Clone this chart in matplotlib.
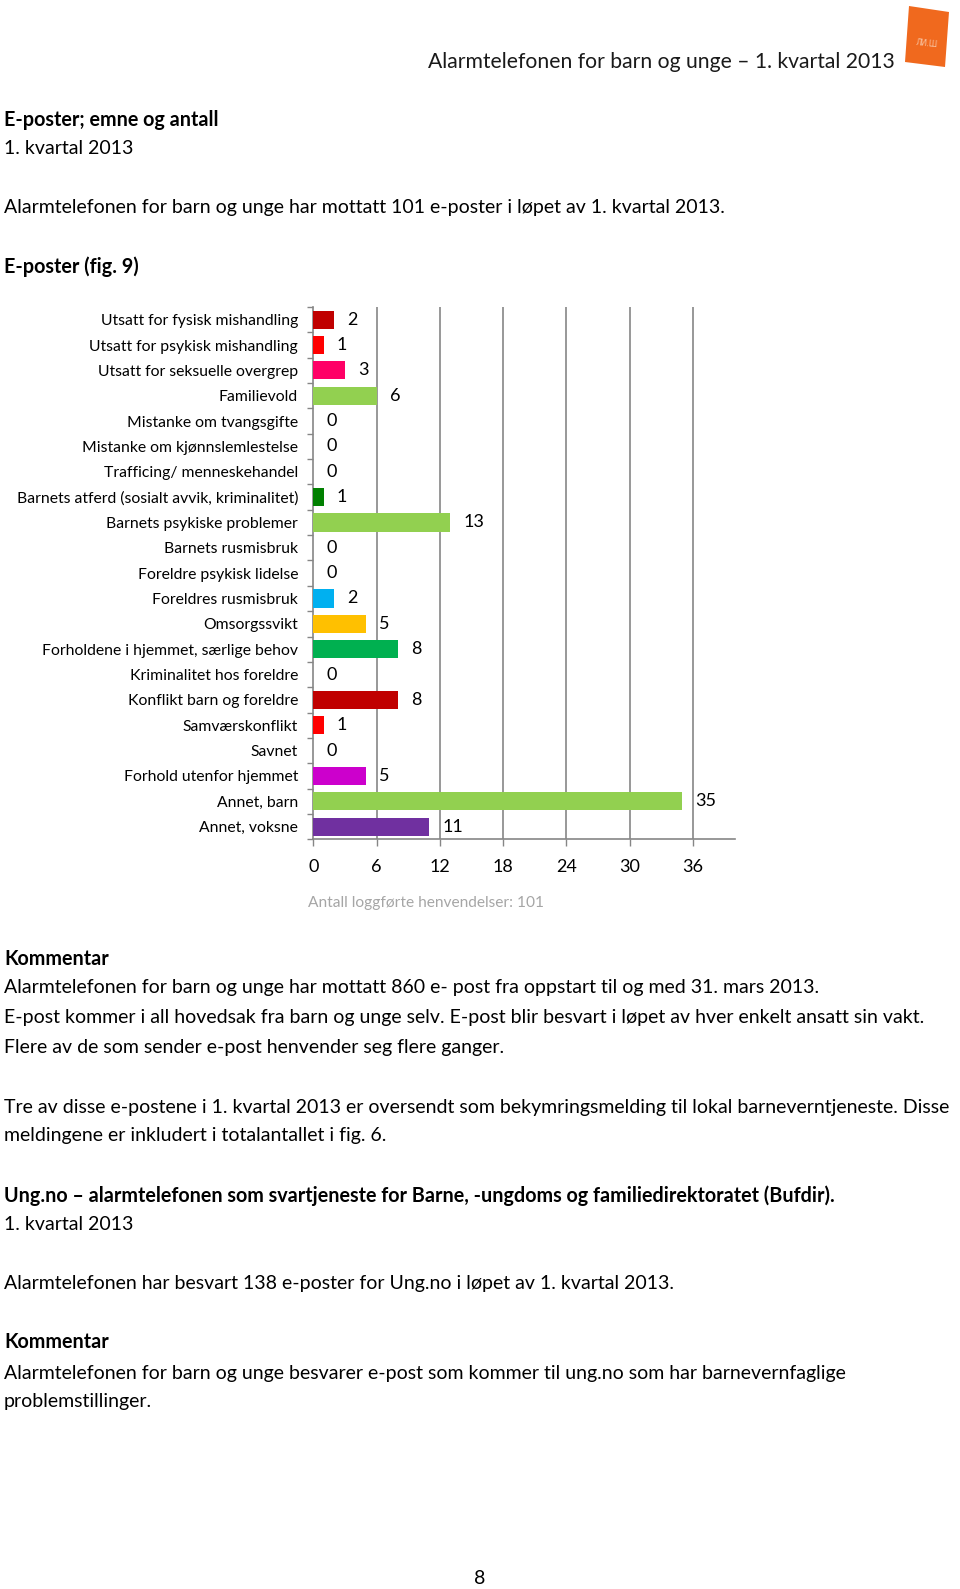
# E-poster; emne og antall -- page recreation (fig. 9)

import matplotlib
matplotlib.use("Agg")
import matplotlib.pyplot as plt
from matplotlib.patches import Polygon

plt.rcParams["font.family"] = ["Lato", "DejaVu Sans"]

W, H = 960, 1589

# ---------------------------------------------------------------------
# Data
# ---------------------------------------------------------------------
categories = [
    "Utsatt for fysisk mishandling",
    "Utsatt for psykisk mishandling",
    "Utsatt for seksuelle overgrep",
    "Familievold",
    "Mistanke om tvangsgifte",
    "Mistanke om kjønnslemlestelse",
    "Trafficing/ menneskehandel",
    "Barnets atferd (sosialt avvik, kriminalitet)",
    "Barnets psykiske problemer",
    "Barnets rusmisbruk",
    "Foreldre psykisk lidelse",
    "Foreldres rusmisbruk",
    "Omsorgssvikt",
    "Forholdene i hjemmet, særlige behov",
    "Kriminalitet hos foreldre",
    "Konflikt barn og foreldre",
    "Samværskonflikt",
    "Savnet",
    "Forhold utenfor hjemmet",
    "Annet, barn",
    "Annet, voksne",
]
counts = [2, 1, 3, 6, 0, 0, 0, 1, 13, 0, 0, 2, 5, 8, 0, 8, 1, 0, 5, 35, 11]
bar_colors = [
    "#C00000", "#FF0000", "#FF0066", "#92D050", "#92D050", "#92D050",
    "#92D050", "#008000", "#92D050", "#92D050", "#92D050", "#00B0F0",
    "#FFC000", "#00B050", "#92D050", "#C00000", "#FF0000", "#92D050",
    "#CC00CC", "#92D050", "#7030A0",
]
x_ticks = [0, 6, 12, 18, 24, 30, 36]
x_label = "Antall loggførte henvendelser: 101"

header = "Alarmtelefonen for barn og unge – 1. kvartal 2013"
# (y pixel, text, bold)
body_lines = [
    (120, "E-poster; emne og antall", True),
    (148, "1. kvartal 2013", False),
    (208, "Alarmtelefonen for barn og unge har mottatt 101 e-poster i løpet av 1. kvartal 2013.", False),
    (267, "E-poster (fig. 9)", True),
    (959, "Kommentar", True),
    (988, "Alarmtelefonen for barn og unge har mottatt 860 e- post fra oppstart til og med 31. mars 2013.", False),
    (1018, "E-post kommer i all hovedsak fra barn og unge selv. E-post blir besvart i løpet av hver enkelt ansatt sin vakt.", False),
    (1048, "Flere av de som sender e-post henvender seg flere ganger.", False),
    (1107, "Tre av disse e-postene i 1. kvartal 2013 er oversendt som bekymringsmelding til lokal barneverntjeneste. Disse", False),
    (1136, "meldingene er inkludert i totalantallet i fig. 6.", False),
    (1196, "Ung.no – alarmtelefonen som svartjeneste for Barne, -ungdoms og familiedirektoratet (Bufdir).", True),
    (1225, "1. kvartal 2013", False),
    (1283, "Alarmtelefonen har besvart 138 e-poster for Ung.no i løpet av 1. kvartal 2013.", False),
    (1342, "Kommentar", True),
    (1373, "Alarmtelefonen for barn og unge besvarer e-post som kommer til ung.no som har barnevernfaglige", False),
    (1402, "problemstillinger.", False),
]


def fx(x):
    return x / W


def fy(y):
    return 1 - y / H


# ---------------------------------------------------------------------
# Page
# ---------------------------------------------------------------------
fig = plt.figure(figsize=(W / 100, H / 100), dpi=100)

fig.text(fx(895), fy(62), header, ha="right", va="center", fontsize=15.2, color="#1a1a1a")

# orange logo in the corner
logo = Polygon(
    [(fx(909), fy(6)), (fx(949), fy(12)), (fx(945), fy(67)), (fx(905), fy(62))],
    closed=True, transform=fig.transFigure, facecolor="#F0691E", edgecolor="none",
)
fig.patches.append(logo)
fig.text(fx(927), fy(44), "ЛИ.Ш", ha="center", va="center", fontsize=5.5,
         color="#F8C8A8", family=["DejaVu Sans"], rotation=-6)

for y, txt, bold in body_lines:
    fig.text(fx(4), fy(y), txt, ha="left", va="center",
             fontsize=14.2 if bold else 14.0,
             fontweight="bold" if bold else "normal", color="black")

fig.text(fx(480), fy(1578), "8", ha="center", va="center", fontsize=14.0, color="black")

# ---------------------------------------------------------------------
# Chart
# ---------------------------------------------------------------------
left, right, top, bottom = 313.3, 735, 307, 839.3
ax = fig.add_axes([fx(left), fy(bottom), (right - left) / W, (bottom - top) / H])

n = len(categories)
y = list(range(n))
ax.barh(y, counts, height=0.72, color=bar_colors, linewidth=0, zorder=3)

for yi, v in zip(y, counts):
    ax.annotate(str(v), (v, yi), xytext=(9.4, 0), textcoords="offset points",
                ha="left", va="center", fontsize=13, color="black")

ax.set_xlim(0, 40)
ax.set_ylim(n - 0.5, -0.5)

grid_c = "#868686"
ax.set_xticks(x_ticks)
ax.set_xticklabels([str(t) for t in x_ticks], fontsize=13)
for t in x_ticks[1:]:
    ax.axvline(t, color=grid_c, linewidth=1.2, zorder=1)

ax.set_yticks(y)
ax.set_yticklabels(categories, fontsize=11.3)
ax.set_yticks([i - 0.5 for i in range(n + 1)], minor=True)
ax.tick_params(axis="y", which="major", length=0, pad=11)
ax.tick_params(axis="y", which="minor", length=4, width=1, color=grid_c)
ax.tick_params(axis="x", length=5, width=1, color=grid_c, pad=9)

for side in ("top", "right"):
    ax.spines[side].set_visible(False)
for side in ("left", "bottom"):
    ax.spines[side].set_color(grid_c)
    ax.spines[side].set_linewidth(1.2)

fig.text(fx(308), fy(903), x_label, ha="left", va="center", fontsize=11.2, color="#A6A6A6")

fig.savefig("out.png", dpi=100)
